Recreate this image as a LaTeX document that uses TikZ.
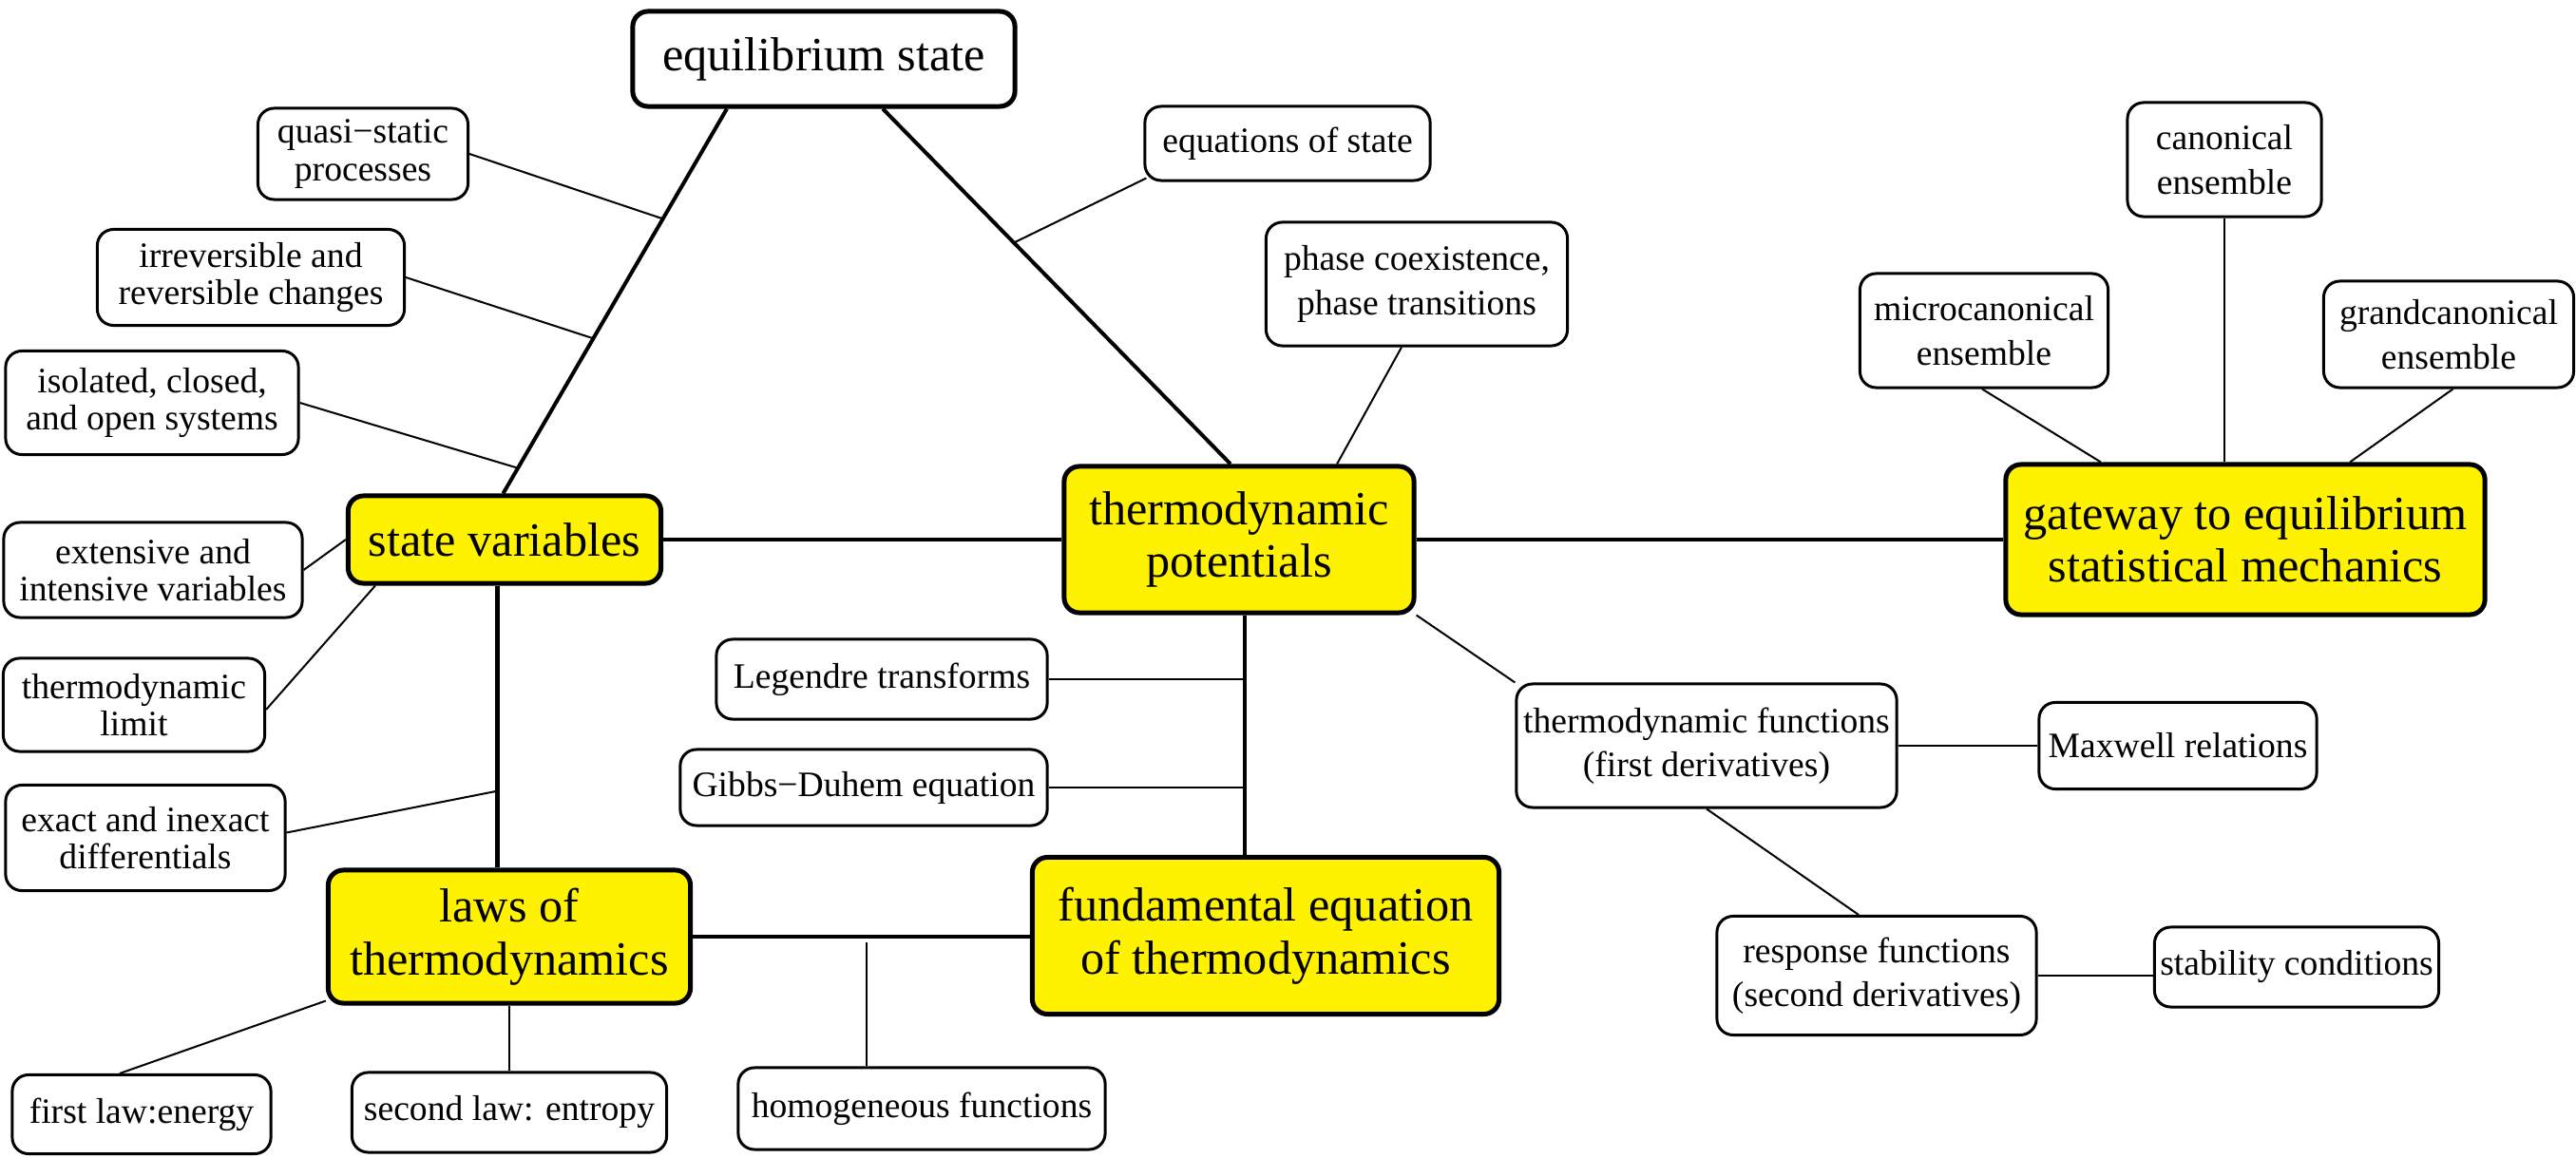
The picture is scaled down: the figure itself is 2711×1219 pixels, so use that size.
\documentclass[tikz,border=0pt]{standalone}
\usepackage{fontspec}
\setmainfont{Liberation Serif}
\usetikzlibrary{positioning, calc}
\newcommand{\bigtext}{\fontsize{14.3}{15.8}\selectfont}
\newcommand{\smalltext}{\fontsize{10.7}{11.2}\selectfont}
\newcommand{\smallwide}{\fontsize{10.7}{13.2}\selectfont}
\tikzset{
  concept/.style={draw, line width=0.85pt, rounded corners=0.17cm, align=center, inner sep=0pt, fill=white, font=\smalltext},
  wideconcept/.style={concept, font=\smallwide},
  hub/.style={concept, line width=1.42pt, rounded corners=0.16cm, font=\bigtext},
  keyconcept/.style={hub, fill=yellow},
  link/.style={line width=1.14pt},
  sublink/.style={line width=0.57pt}
}

\begin{document}
\begin{tikzpicture}[x=0.01cm, y=-0.01cm]
\useasboundingbox (0,0) rectangle (2711,1219);
% key concepts
\node[hub, minimum width=4.02cm, minimum height=1.00cm] (equil) at (867,62) {equilibrium state};
\node[keyconcept, minimum width=3.29cm, minimum height=0.92cm] (statevar) at (531,568) {state variables};
\node[keyconcept, minimum width=3.68cm, minimum height=1.54cm] (potentials) at (1304,568) {thermodynamic\\potentials};
\node[keyconcept, minimum width=5.04cm, minimum height=1.58cm] (gateway) at (2363,568) {gateway to equilibrium\\statistical mechanics};
\node[keyconcept, minimum width=3.81cm, minimum height=1.40cm] (laws) at (536,986) {laws of\\thermodynamics};
\node[keyconcept, minimum width=4.91cm, minimum height=1.65cm] (fundeq) at (1332,985) {fundamental equation\\of thermodynamics};
% left side
\node[concept, minimum width=2.21cm, minimum height=0.96cm] (quasi) at (382,162) {quasi−static\\processes};
\node[concept, minimum width=3.23cm, minimum height=1.01cm] (irrev) at (264,292) {irreversible and\\reversible changes};
\node[concept, minimum width=3.08cm, minimum height=1.09cm] (systems) at (160,424) {isolated, closed,\\and open systems};
\node[concept, minimum width=3.14cm, minimum height=1.00cm] (extensive) at (161,600) {extensive and\\intensive variables};
\node[concept, minimum width=2.75cm, minimum height=0.98cm] (tdlimit) at (141,742) {thermodynamic\\limit};
\node[concept, minimum width=2.94cm, minimum height=1.11cm] (exact) at (153,882) {exact and inexact\\differentials};
\node[concept, minimum width=2.72cm, minimum height=0.83cm] (firstlaw) at (149,1173) {first law:energy};
\node[concept, minimum width=3.31cm, minimum height=0.84cm] (secondlaw) at (536,1171) {second law: entropy};
\node[concept, minimum width=3.86cm, minimum height=0.86cm] (homog) at (970,1167) {homogeneous functions};
\node[concept, minimum width=3.48cm, minimum height=0.84cm] (legendre) at (928,715) {Legendre transforms};
\node[concept, minimum width=3.86cm, minimum height=0.80cm] (gibbs) at (909,829) {Gibbs−Duhem equation};
% top and right side
\node[concept, minimum width=3.00cm, minimum height=0.78cm] (eqofstate) at (1355,151) {equations of state};
\node[wideconcept, minimum width=3.17cm, minimum height=1.30cm] (phase) at (1491,299) {phase coexistence,\\phase transitions};
\node[wideconcept, minimum width=2.04cm, minimum height=1.20cm] (canon) at (2341,168) {canonical\\ensemble};
\node[wideconcept, minimum width=2.61cm, minimum height=1.20cm] (micro) at (2088,348) {microcanonical\\ensemble};
\node[wideconcept, minimum width=2.63cm, minimum height=1.12cm] (grand) at (2577,352) {grandcanonical\\ensemble};
\node[wideconcept, minimum width=4.00cm, minimum height=1.30cm] (tdfunc) at (1796,785) {thermodynamic functions\\(first derivatives)};
\node[concept, minimum width=2.92cm, minimum height=0.91cm] (maxwell) at (2292,785) {Maxwell relations};
\node[wideconcept, minimum width=3.36cm, minimum height=1.25cm] (response) at (1975,1027) {response functions\\(second derivatives)};
\node[concept, minimum width=2.99cm, minimum height=0.84cm] (stability) at (2417,1018) {stability conditions};

% main links
\draw[link] ([xshift=-1.02cm]equil.south) coordinate (es1) -- ([xshift=-0.015cm]statevar.north) coordinate (es2);
\draw[link] ([xshift=0.62cm]equil.south) coordinate (ep1) -- ([xshift=-0.09cm]potentials.north) coordinate (ep2);
\draw[link] (statevar) -- (potentials);
\draw[link] (potentials) -- (gateway);
\coordinate (svl) at ([xshift=-0.075cm]statevar.south);
\draw[link] (svl) -- (svl |- laws.north);
\draw[link] (laws.east) -- (laws.east -| fundeq.west);
\coordinate (pfl) at ([xshift=0.06cm]potentials.south);
\draw[link] (pfl) -- (pfl |- fundeq.north);

% side links
\draw[sublink] (quasi.east) -- ($(es1)!0.286!(es2)$);
\draw[sublink] (irrev.east) -- ($(es1)!0.597!(es2)$);
\draw[sublink] (systems.east) -- ($(es1)!0.934!(es2)$);
\draw[sublink] ([shift={(0.03cm,0.04cm)}]eqofstate.south west) -- ($(ep1)!0.377!(ep2)$);
\draw[sublink] ([xshift=-0.16cm]phase.south) -- ([xshift=1.03cm]potentials.north);
\draw[sublink] (canon.south) -- (canon.south |- gateway.north);
\draw[sublink] ([xshift=-0.02cm]micro.south) -- ([xshift=-1.52cm]gateway.north);
\draw[sublink] ([xshift=0.045cm]grand.south) -- ([xshift=1.10cm]gateway.north);
\draw[sublink] (extensive.east) -- (statevar.west);
\draw[sublink] ([yshift=-0.05cm]tdlimit.east) -- ([xshift=0.31cm]statevar.south west);
\draw[sublink] ([yshift=0.055cm]exact.east) -- ([yshift=-2.16cm]svl);
\draw[sublink] ([xshift=-0.23cm]firstlaw.north) -- ([yshift=0.05cm]laws.south west);
\draw[sublink] (secondlaw) -- (laws);
\coordinate (hmtop) at (912,992);
\draw[sublink] (hmtop) -- (hmtop |- homog.north);
\draw[sublink] (legendre.east) -- (legendre.east -| pfl);
\draw[sublink] (gibbs.east) -- (gibbs.east -| pfl);
\draw[sublink] (potentials.south east) -- (tdfunc.north west);
\draw[sublink] (tdfunc.east) -- (maxwell.west);
\draw[sublink] (tdfunc.south) -- ([xshift=-0.19cm]response.north);
\draw[sublink] (response.east) -- (response.east -| stability.west);
\end{tikzpicture}
\end{document}
